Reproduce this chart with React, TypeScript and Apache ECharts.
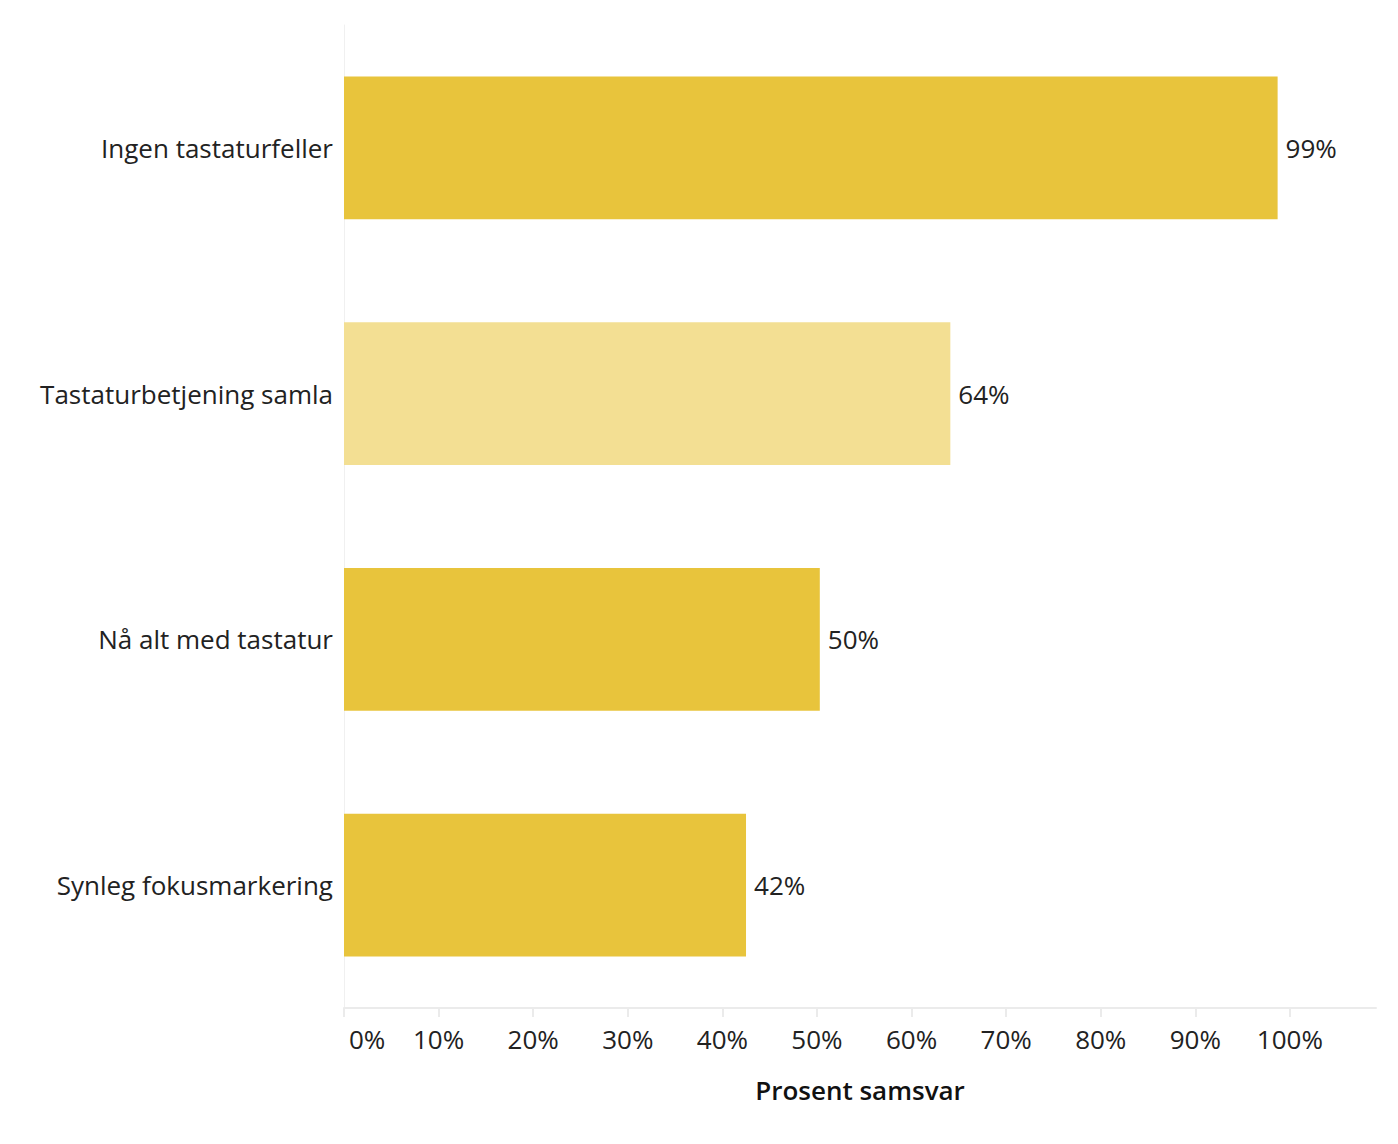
import React, { useEffect, useRef } from "react";
import * as echarts from "echarts";

const categories = [
  "Synleg fokusmarkering",
  "Nå alt med tastatur",
  "Tastaturbetjening samla",
  "Ingen tastaturfeller",
];
const values = [42.5, 50.3, 64.1, 98.7];
const labels = ["42%", "50%", "64%", "99%"];
const highlight = [false, false, true, false];
const axisTitle = "Prosent samsvar";

const FONT = "'Open Sans', 'Noto Sans', sans-serif";
const FS = 26;

export default function App() {
  const ref = useRef<HTMLDivElement>(null);
  useEffect(() => {
    const chart = echarts.init(ref.current!, null, { renderer: "svg" });
    chart.setOption({
      animation: false,
      textStyle: { fontFamily: FONT },
      grid: { left: 344, right: 22, top: 25, bottom: 136, containLabel: false },
      xAxis: {
        type: "value",
        min: 0,
        max: 109.1,
        interval: 10,
        name: axisTitle,
        nameLocation: "middle",
        nameGap: 69,
        nameTextStyle: { fontSize: FS, color: "#111", fontWeight: 600, fontFamily: FONT },
        axisLine: { show: true, lineStyle: { color: "#ebebeb", width: 2 } },
        axisTick: { show: true, length: 9, lineStyle: { color: "#ebebeb", width: 2 } },
        splitLine: { show: false },
        axisLabel: {
          fontSize: FS,
          color: "#222",
          margin: 18,
          showMaxLabel: false,
          alignMinLabel: "left",
          formatter: (v: number) => (v > 100 ? "" : v === 0 ? "{z|0%}" : v + "%"),
          rich: {
            z: { fontSize: FS, color: "#222", fontFamily: FONT, padding: [0, 0, 0, 5] },
          },
          fontFamily: FONT,
        },
      },
      yAxis: {
        type: "category",
        data: categories,
        axisLine: { show: true, lineStyle: { color: "#f0f0f0", width: 1 } },
        axisTick: { show: false },
        axisLabel: { fontSize: FS, color: "#222", margin: 11, fontFamily: FONT },
      },
      series: [
        {
          type: "bar",
          barCategoryGap: "42%",
          data: values.map((v, i) => ({
            value: v,
            itemStyle: { color: highlight[i] ? "#F3DF93" : "#E8C43C" },
          })),
          label: {
            show: true,
            position: "right",
            distance: 8,
            fontSize: FS,
            color: "#222",
            fontFamily: FONT,
            formatter: (p: any) => labels[p.dataIndex],
          },
        },
      ],
    });
    return () => chart.dispose();
  }, []);
  return (
    <div
      ref={ref}
      style={{ position: "absolute", left: 0, top: 0, width: 1398, height: 1144 }}
    />
  );
}
